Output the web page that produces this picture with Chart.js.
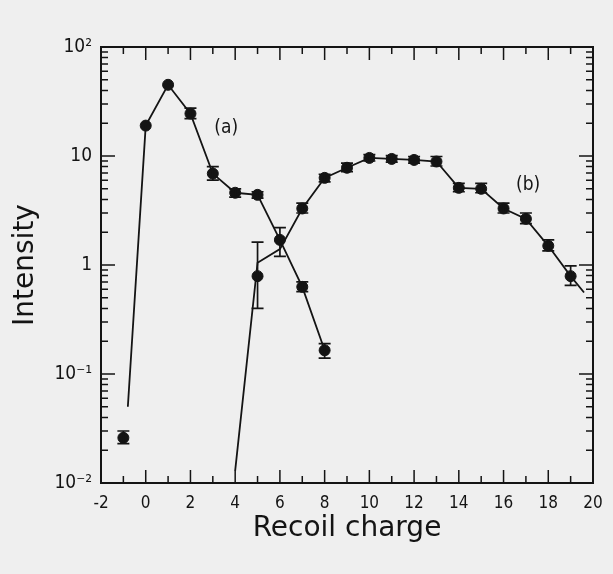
<!DOCTYPE html>
<html>
<head>
<meta charset="utf-8">
<script src="https://cdn.jsdelivr.net/npm/chart.js@4.4.0/dist/chart.umd.min.js"></script>
<style>
  html, body { margin: 0; padding: 0; background: #efefef; }
  #wrap { width: 613px; height: 574px; }
</style>
</head>
<body>
<div id="wrap"><canvas id="chart" width="613" height="574"></canvas></div>
<script>
// measured points, series (a)
var chargeA = [-1, 0, 1, 2, 3, 4, 5, 6, 7, 8];
var intensityA = [0.026, 19, 45, 24.5, 6.9, 4.6, 4.4, 1.7, 0.63, 0.165];
var errLowA = [0.023, 19, 45, 22, 6.0, 4.2, 4.1, 1.2, 0.57, 0.14];
var errHighA = [0.030, 19, 45, 27.5, 8.0, 5.0, 4.7, 2.2, 0.70, 0.19];

// measured points, series (b)
var chargeB = [5, 7, 8, 9, 10, 11, 12, 13, 14, 15, 16, 17, 18, 19];
var intensityB = [0.79, 3.3, 6.3, 7.8, 9.6, 9.4, 9.2, 8.9, 5.1, 5.0, 3.3, 2.65, 1.5, 0.79];
var errLowB = [0.40, 3.0, 5.8, 7.2, 9.0, 8.8, 8.6, 8.1, 4.7, 4.6, 3.0, 2.4, 1.35, 0.65];
var errHighB = [1.62, 3.7, 6.8, 8.6, 10.3, 10.1, 9.9, 9.9, 5.6, 5.6, 3.7, 3.0, 1.7, 0.98];

// calculated curves
var curveAx = [-0.8, 0, 1, 2, 3, 4, 5, 6, 7, 8];
var curveAy = [0.05, 19, 45, 24.5, 6.9, 4.6, 4.4, 1.7, 0.63, 0.165];
var curveBx = [4.0, 5, 6, 7, 8, 9, 10, 11, 12, 13, 14, 15, 16, 17, 18, 19, 19.6];
var curveBy = [0.013, 1.05, 1.4, 3.3, 6.3, 7.8, 9.6, 9.4, 9.2, 8.9, 5.1, 5.0, 3.3, 2.65, 1.5, 0.79, 0.56];

var yTicks = [0.01, 0.1, 1, 10, 100];
var yTickLabels = ['10\u207B\u00B2', '10\u207B\u00B9', '1', '10', '10\u00B2'];

var FONT = '"DejaVu Sans Condensed", "DejaVu Sans", sans-serif';
var TITLE_FONT = '"DejaVu Sans", sans-serif';
var INK = '#141414';

function pts(xs, ys) {
    return xs.map(function (x, i) { return {x: x, y: ys[i]}; });
}

var errorBars = {
    id: 'errorBars',
    afterDatasetsDraw: function (chart) {
        var ctx = chart.ctx, x = chart.scales.x, y = chart.scales.y;
        ctx.save();
        ctx.strokeStyle = INK;
        ctx.lineWidth = 1.7;
        [[chargeA, errLowA, errHighA], [chargeB, errLowB, errHighB]].forEach(function (s) {
            s[0].forEach(function (c, i) {
                if (s[1][i] === s[2][i]) return;
                var px = x.getPixelForValue(c);
                var lo = y.getPixelForValue(s[1][i]);
                var hi = y.getPixelForValue(s[2][i]);
                ctx.beginPath();
                ctx.moveTo(px, lo); ctx.lineTo(px, hi);
                ctx.moveTo(px - 6, lo); ctx.lineTo(px + 6, lo);
                ctx.moveTo(px - 6, hi); ctx.lineTo(px + 6, hi);
                ctx.stroke();
            });
        });
        ctx.restore();
    }
};

var frameTicks = {
    id: 'frameTicks',
    afterDraw: function (chart) {
        var ctx = chart.ctx, a = chart.chartArea, x = chart.scales.x, y = chart.scales.y;
        ctx.save();
        ctx.strokeStyle = INK;
        ctx.lineWidth = 1.5;
        ctx.beginPath();
        for (var v = -2; v <= 20; v++) {
            var px = x.getPixelForValue(v);
            var len = v % 2 === 0 ? 13 : 7;
            ctx.moveTo(px, a.bottom); ctx.lineTo(px, a.bottom - len);
            ctx.moveTo(px, a.top); ctx.lineTo(px, a.top + len);
        }
        for (var d = -2; d <= 1; d++) {
            for (var m = 1; m <= 9; m++) {
                var py = y.getPixelForValue(m * Math.pow(10, d));
                var l = m === 1 ? 14 : 7;
                ctx.moveTo(a.left, py); ctx.lineTo(a.left + l, py);
                ctx.moveTo(a.right, py); ctx.lineTo(a.right - l, py);
            }
        }
        ctx.stroke();
        ctx.lineWidth = 2;
        ctx.strokeRect(a.left, a.top, a.right - a.left, a.bottom - a.top);

        ctx.fillStyle = INK;
        ctx.font = '19px ' + FONT;
        ctx.textAlign = 'center';
        ctx.textBaseline = 'middle';
        ctx.fillText('(a)', x.getPixelForValue(3.6), y.getPixelForValue(18));
        ctx.fillText('(b)', x.getPixelForValue(17.1), y.getPixelForValue(5.4));
        ctx.restore();
    }
};

var ctx = document.getElementById('chart').getContext('2d');
var chart = new Chart(ctx, {
    type: 'scatter',
    data: {
        datasets: [
            {data: pts(curveAx, curveAy), showLine: true, borderColor: INK, borderWidth: 1.8, pointRadius: 0, tension: 0},
            {data: pts(curveBx, curveBy), showLine: true, borderColor: INK, borderWidth: 1.8, pointRadius: 0, tension: 0},
            {data: pts(chargeA, intensityA), showLine: false, pointRadius: 5.5, pointBackgroundColor: INK, pointBorderColor: INK},
            {data: pts(chargeB, intensityB), showLine: false, pointRadius: 5.5, pointBackgroundColor: INK, pointBorderColor: INK}
        ]
    },
    options: {
        responsive: false,
        animation: false,
        events: [],
        clip: false,
        layout: {padding: {left: 0, top: 47, right: 20, bottom: 0}},
        plugins: {legend: {display: false}, tooltip: {enabled: false}},
        scales: {
            x: {
                type: 'linear',
                min: -2,
                max: 20,
                grid: {display: false, drawTicks: false},
                border: {display: false},
                ticks: {stepSize: 2, color: INK, padding: 10, font: {family: FONT, size: 17}},
                title: {display: true, text: 'Recoil charge', color: INK, padding: {top: 0, bottom: 28}, font: {family: TITLE_FONT, size: 28}},
                afterFit: function (s) { s.height = 91; }
            },
            y: {
                type: 'logarithmic',
                min: 0.01,
                max: 100,
                grid: {display: false, drawTicks: false},
                border: {display: false},
                afterBuildTicks: function (s) { s.ticks = yTicks.map(function (v) { return {value: v}; }); },
                ticks: {
                    color: INK, padding: 9, font: {family: FONT, size: 19},
                    callback: function (v) { var i = yTicks.indexOf(v); return i >= 0 ? yTickLabels[i] : ''; }
                },
                title: {display: true, text: 'Intensity', color: INK, padding: {top: 9, bottom: 0}, font: {family: TITLE_FONT, size: 28}},
                afterFit: function (s) { s.width = 101; }
            }
        }
    },
    plugins: [errorBars, frameTicks]
});
</script>
</body>
</html>
